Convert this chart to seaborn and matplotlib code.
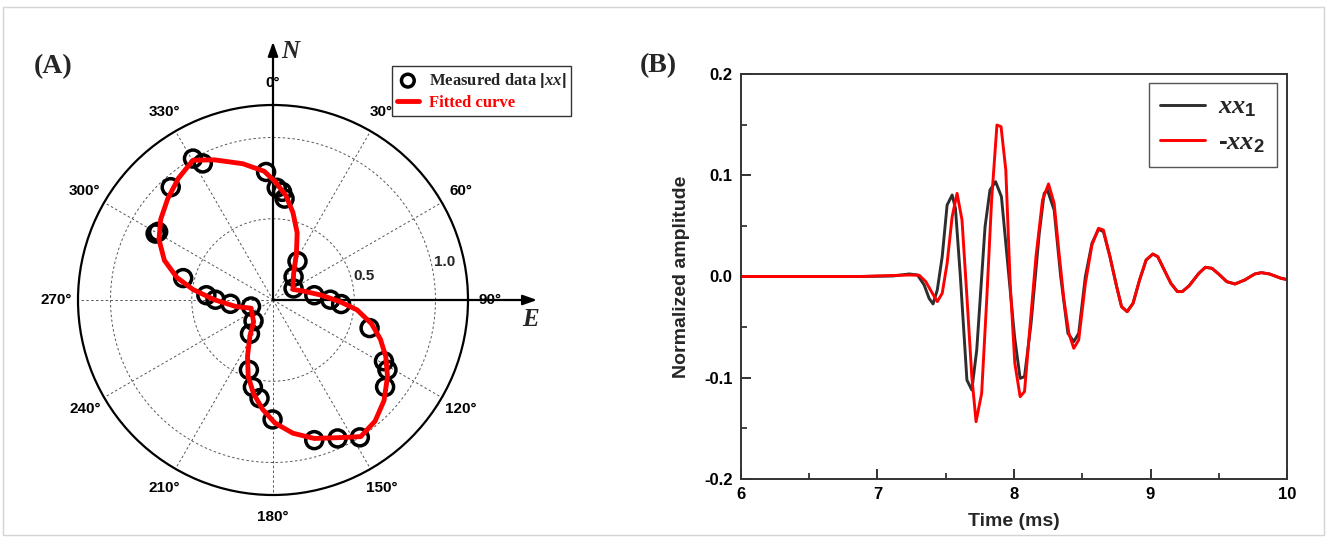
import numpy as np
import pandas as pd
import matplotlib
matplotlib.use("Agg")
import matplotlib.pyplot as plt
import seaborn as sns
from matplotlib.patches import Rectangle

# ---------------- Panel A data (polar) ----------------
meas_theta_deg = [330.5, 332.8, 317.8, 300.7, 299.5, 283.7, 274.1, 270.3, 264.9, 253.5,
                  222.9, 214.2, 199.0, 193.0, 187.8, 180.2, 163.6, 155.0, 147.7, 127.8,
                  121.4, 118.9, 106.2, 93.4, 89.7, 83.4, 60.6, 41.5, 32.3, 6.5, 4.8, 1.9, 356.9]
meas_r = [1.00, 0.945, 0.937, 0.822, 0.83, 0.569, 0.411, 0.354, 0.263, 0.141,
          0.176, 0.252, 0.455, 0.55, 0.61, 0.735, 0.899, 0.94, 1.0, 0.873,
          0.825, 0.78, 0.619, 0.42, 0.353, 0.256, 0.145, 0.191, 0.282, 0.628, 0.668, 0.691, 0.789]

fit_theta_deg = [1.0, 6.9, 12.8, 19.8, 26.7, 38.4, 62.0, 73.8, 84.3, 91.2, 96.7, 103.5,
                 110.0, 116.5, 123.8, 132.2, 139.9, 147.3, 154.3, 163.4, 171.5, 179.1,
                 185.5, 191.7, 197.9, 204.4, 212.9, 221.5, 249.5, 260.1, 270.3, 277.5,
                 283.2, 290.1, 297.9, 305.7, 313.9, 322.2, 330.2, 337.3, 347.5, 356.1]
fit_r = [0.729, 0.650, 0.553, 0.439, 0.321, 0.204, 0.139, 0.196, 0.299, 0.408, 0.521, 0.623,
         0.703, 0.775, 0.848, 0.922, 0.975, 0.999, 0.940, 0.889, 0.829, 0.757,
         0.675, 0.589, 0.496, 0.380, 0.261, 0.180, 0.144, 0.233, 0.361, 0.497,
         0.608, 0.712, 0.794, 0.851, 0.899, 0.949, 0.991, 0.935, 0.859, 0.794]

angle_ticks = [0, 30, 60, 90, 120, 150, 180, 210, 240, 270, 300, 330]
angle_labels = ["0°", "30°", "60°", "90°", "120°", "150°", "180°", "210°", "240°", "270°", "300°", "330°"]
r_ticks = [0.5, 1.0]
r_labels = ["0.5", "1.0"]

# ---------------- Panel B data (waveforms) ----------------
t_xx1 = [6.0, 6.872, 7.113, 7.233, 7.293, 7.342, 7.378, 7.407, 7.438, 7.474, 7.510, 7.547, 7.571,
         7.607, 7.655, 7.691, 7.727, 7.788, 7.824, 7.865, 7.908, 7.956, 8.004, 8.045, 8.077,
         8.125, 8.185, 8.221, 8.245, 8.294, 8.342, 8.395, 8.438, 8.474, 8.523, 8.571, 8.619,
         8.655, 8.703, 8.752, 8.788, 8.829, 8.872, 8.920, 8.968, 9.017, 9.053, 9.089, 9.149,
         9.197, 9.233, 9.282, 9.354, 9.402, 9.450, 9.499, 9.559, 9.619, 9.691, 9.764, 9.812,
         9.872, 9.957, 10.0]
a_xx1 = [0.0, 0.0, 0.0005, 0.0025, 0.0015, -0.0084, -0.0216, -0.0271, -0.0133, 0.0196, 0.0706, 0.0805, 0.0673,
         0.0, -0.1022, -0.1121, -0.0726, 0.0492, 0.0854, 0.0937, 0.0788, 0.0097, -0.0594, -0.1006, -0.0989,
         -0.0462, 0.0426, 0.0821, 0.0854, 0.0657, 0.0, -0.0561, -0.0643, -0.0561, 0.0, 0.0328, 0.0466,
         0.0443, 0.0196, -0.0100, -0.0298, -0.0347, -0.0265, -0.0034, 0.0163, 0.0222, 0.0196, 0.0097, -0.0067,
         -0.0149, -0.0149, -0.0093, 0.0031, 0.0091, 0.0081, 0.0025, -0.0051, -0.0074, -0.0034, 0.0025, 0.0038,
         0.0025, -0.0018, -0.003]

t_xx2 = [6.0, 6.872, 7.233, 7.306, 7.354, 7.402, 7.438, 7.474, 7.510, 7.547, 7.583, 7.619, 7.655,
         7.691, 7.722, 7.763, 7.800, 7.836, 7.875, 7.905, 7.940, 7.972, 8.006, 8.045, 8.077,
         8.113, 8.161, 8.209, 8.253, 8.294, 8.330, 8.366, 8.402, 8.438, 8.474, 8.523, 8.571,
         8.619, 8.655, 8.703, 8.752, 8.788, 8.829, 8.872, 8.920, 8.968, 9.017, 9.053, 9.089,
         9.149, 9.197, 9.233, 9.282, 9.354, 9.402, 9.450, 9.499, 9.559, 9.619, 9.691, 9.764,
         9.812, 9.872, 9.957, 10.0]
a_xx2 = [0.0, 0.0, 0.0015, 0.0012, -0.0051, -0.0166, -0.0248, -0.0166, 0.0130, 0.0591, 0.0821, 0.0558, -0.0199,
         -0.0989, -0.1434, -0.1154, -0.0232, 0.0756, 0.1496, 0.1480, 0.1052, -0.0067, -0.0857, -0.1187, -0.1137,
         -0.0561, 0.0196, 0.0756, 0.0914, 0.0723, 0.0229, -0.0232, -0.0561, -0.0709, -0.0627, -0.0067, 0.0311,
         0.0476, 0.0459, 0.0196, -0.0100, -0.0298, -0.0347, -0.0265, -0.0034, 0.0163, 0.0222, 0.0196, 0.0097,
         -0.0067, -0.0149, -0.0149, -0.0093, 0.0031, 0.0091, 0.0081, 0.0025, -0.0051, -0.0074, -0.0034, 0.0025,
         0.0038, 0.0025, -0.0018, -0.003]

x_ticks = [6, 7, 8, 9, 10]
y_ticks = [-0.2, -0.1, 0.0, 0.1, 0.2]
y_tick_labels = ["-0.2", "-0.1", "0.0", "0.1", "0.2"]

# ---------------- Style ----------------
sns.set_theme(style="ticks")
plt.rcParams["font.family"] = ["Liberation Sans", "DejaVu Sans"]
plt.rcParams["mathtext.fontset"] = "custom"
plt.rcParams["mathtext.it"] = "Liberation Serif:italic:bold"
plt.rcParams["mathtext.rm"] = "Liberation Sans:bold"
plt.rcParams["mathtext.bf"] = "Liberation Sans:bold"
plt.rcParams["axes.unicode_minus"] = False

fig = plt.figure(figsize=(13.27, 5.38), dpi=100)
fig.patch.set_facecolor("white")
fig.add_artist(Rectangle((0.0026, 0.0056), 0.995, 0.9805, transform=fig.transFigure,
                         fill=False, edgecolor="#d4d4d4", linewidth=1.0))

# ================= Panel A =================
axA = fig.add_axes([78 / 1327, 1 - 495 / 538, 390 / 1327, 390 / 538], projection="polar")
axA.set_theta_zero_location("N")
axA.set_theta_direction(-1)
axA.set_facecolor("white")

df_fit = pd.DataFrame({
    "theta": np.deg2rad(np.append(fit_theta_deg, fit_theta_deg[0] + 360)),
    "r": np.append(fit_r, fit_r[0]),
})
df_meas = pd.DataFrame({"theta": np.deg2rad(meas_theta_deg), "r": meas_r})

sns.lineplot(data=df_fit, x="theta", y="r", ax=axA, color="#ff0000", linewidth=3.5,
             sort=False, estimator=None, label="Fitted curve", zorder=4, legend=False)
sns.scatterplot(data=df_meas, x="theta", y="r", ax=axA, marker="o", s=150,
                facecolors="none", edgecolor="black", linewidth=2.5,
                label="Measured data $|xx|$", zorder=3, legend=False)
axA.collections[-1].set_facecolor("none")

axA.set_rlim(0, 1.2)
axA.set_thetagrids(angle_ticks, angle_labels, fontsize=11, fontweight="bold")
axA.set_rgrids(r_ticks, labels=["", ""])
axA.tick_params(axis="x", pad=9, direction="in", length=6, width=1.2, colors="black")
axA.tick_params(axis="y", length=0)
axA.grid(True, linestyle=(0, (2.5, 2.5)), color="#555555", linewidth=0.7)
axA.spines["polar"].set_linewidth(1.6)
axA.spines["polar"].set_color("black")
axA.set_xlabel("")
axA.set_ylabel("")
for rr, lab, ang in zip(r_ticks, r_labels, [75.5, 77.5]):
    axA.text(np.deg2rad(ang), rr + 0.08, lab, fontsize=11, fontweight="bold",
             ha="center", va="center")

# N and E axes with arrows
axA.annotate("", xy=(0.5, 1.162), xytext=(0.5, 0.5), xycoords="axes fraction",
             textcoords="axes fraction", annotation_clip=False,
             arrowprops=dict(arrowstyle="-|>,head_length=0.7,head_width=0.25",
                             color="black", lw=1.6, shrinkA=0, shrinkB=0))
axA.annotate("", xy=(1.177, 0.5), xytext=(0.5, 0.5), xycoords="axes fraction",
             textcoords="axes fraction", annotation_clip=False,
             arrowprops=dict(arrowstyle="-|>,head_length=0.7,head_width=0.25",
                             color="black", lw=1.6, shrinkA=0, shrinkB=0))
fig.text(290 / 1327, 1 - 52 / 538, "N", fontsize=18, fontstyle="italic", fontweight="bold",
         family=["Liberation Serif", "DejaVu Serif"], ha="center", va="center")
fig.text(531 / 1327, 1 - 320 / 538, "E", fontsize=18, fontstyle="italic", fontweight="bold",
         family=["Liberation Serif", "DejaVu Serif"], ha="center", va="center")

handles, labels = axA.get_legend_handles_labels()
order = [1, 0] if labels and labels[0] == "Fitted curve" else [0, 1]
legA = fig.legend([handles[i] for i in order], [labels[i] for i in order],
                  loc="upper left", bbox_to_anchor=(392 / 1327, 1 - 66 / 538),
                  borderaxespad=0, frameon=True, fancybox=False, edgecolor="#333333", framealpha=1,
                  prop={"family": ["Liberation Serif", "DejaVu Serif"], "weight": "bold", "size": 12},
                  handlelength=1.3, handletextpad=0.6, borderpad=0.3, labelspacing=0.3,
                  markerscale=0.75)
for t in legA.get_texts():
    if t.get_text().startswith("Fitted"):
        t.set_color("#ff0000")
legA.get_frame().set_linewidth(1.0)

fig.text(53 / 1327, 1 - 67 / 538, "(A)", fontsize=20, fontweight="bold",
         family=["Liberation Serif", "DejaVu Serif"], ha="center", va="center")

# ================= Panel B =================
axB = fig.add_axes([741 / 1327, 1 - 479 / 538, (1287 - 741) / 1327, (479 - 74) / 538])
df1 = pd.DataFrame({"t": t_xx1, "a": a_xx1})
df2 = pd.DataFrame({"t": t_xx2, "a": a_xx2})
sns.lineplot(data=df1, x="t", y="a", ax=axB, color="#2e2e2e", linewidth=2.1,
             sort=False, estimator=None, label="$xx_{1}$")
sns.lineplot(data=df2, x="t", y="a", ax=axB, color="#ff0000", linewidth=2.1,
             sort=False, estimator=None, label="-$xx_{2}$")

axB.set_xlim(6, 10)
axB.set_ylim(-0.2, 0.2)
axB.set_xticks(x_ticks)
axB.set_xticklabels([str(v) for v in x_ticks])
axB.set_yticks(y_ticks)
axB.set_yticklabels(y_tick_labels)
axB.set_xticks([6.5, 7.5, 8.5, 9.5], minor=True)
axB.set_yticks([-0.15, -0.05, 0.05, 0.15], minor=True)
axB.tick_params(axis="both", which="major", direction="in", length=7, width=1.3,
                labelsize=12, colors="#222222", pad=6)
axB.tick_params(axis="both", which="minor", direction="in", length=4, width=1.2, colors="#222222")
for lab in axB.get_xticklabels() + axB.get_yticklabels():
    lab.set_fontweight("bold")
    lab.set_color("black")
for sp in axB.spines.values():
    sp.set_linewidth(1.4)
    sp.set_color("#333333")
    sp.set_visible(True)
axB.set_xlabel("Time (ms)", fontsize=14, fontweight="bold", labelpad=8)
axB.set_ylabel("Normalized amplitude", fontsize=14, fontweight="bold", labelpad=10)

legB = axB.legend(loc="upper right", bbox_to_anchor=(1277 / 1327, 1 - 83 / 538),
                  bbox_transform=fig.transFigure, borderaxespad=0, frameon=True, fancybox=False,
                  edgecolor="#555555", framealpha=1,
                  prop={"family": ["Liberation Sans", "DejaVu Sans"], "weight": "bold", "size": 19},
                  handlelength=1.7, handletextpad=0.5, borderpad=0.45, labelspacing=0.4)
legB.get_frame().set_linewidth(1.0)

fig.text(658 / 1327, 1 - 66 / 538, "(B)", fontsize=20, fontweight="bold",
         family=["Liberation Serif", "DejaVu Serif"], ha="center", va="center")

fig.savefig("out.png", dpi=100, facecolor="white")
